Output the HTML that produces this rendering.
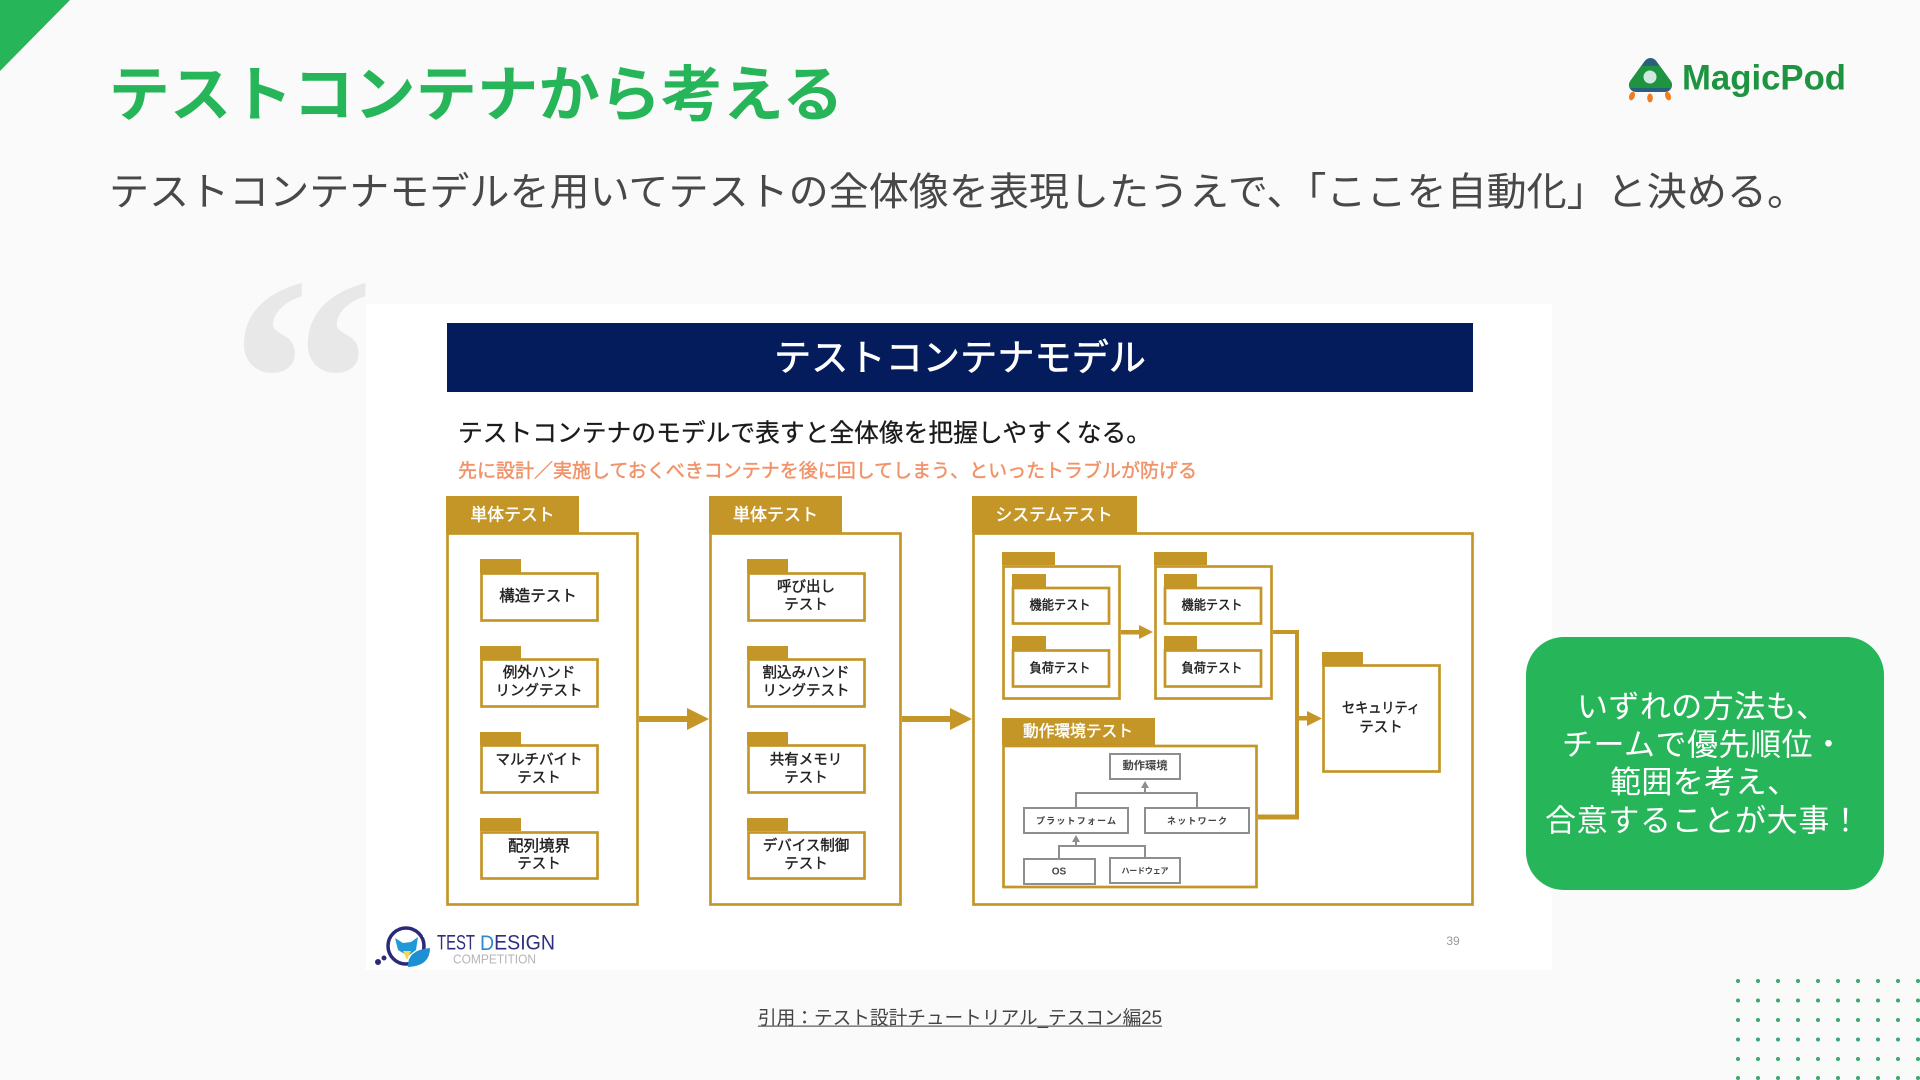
<!DOCTYPE html>
<html lang="ja"><head><meta charset="utf-8"><title>テストコンテナから考える</title>
<style>
html,body{margin:0;padding:0;width:1920px;height:1080px;overflow:hidden;background:#fafafa}
svg{display:block}
text{font-family:"Liberation Sans","Noto Sans CJK JP",sans-serif;text-anchor:middle;dominant-baseline:central}
.g{fill:#fff;stroke:#c49628;stroke-width:2.700}
.t{fill:#c49628}
.h{fill:#fff;font-size:17px;stroke:#fff;stroke-width:.45}
.b{fill:#222;font-size:14.500px;stroke:#222;stroke-width:.4}
.c{fill:#222;font-size:13px;stroke:#222;stroke-width:.4}
.x{fill:#fff;stroke:#8e8e8e;stroke-width:2}
.l{fill:none;stroke:#8e8e8e;stroke-width:2}
.m{fill:#444;font-weight:700}
.a{fill:#c49628}
.f{fill:none;stroke:#c49628}
.d{fill:#3aa86e}
</style></head><body>
<svg width="1920" height="1080" viewBox="0 0 1920 1080" xmlns="http://www.w3.org/2000/svg">
<rect width="1920" height="1080" fill="#fafafa"/>
<polygon points="0,0 70,0 0,71" fill="#27b55a"/>
<text x="476" y="94.500" font-size="60.500" font-weight="700" fill="#27b55a" textLength="735" lengthAdjust="spacingAndGlyphs">テストコンテナから考える</text>
<text x="958" y="192.500" font-size="39.400" fill="#484848" textLength="1698" lengthAdjust="spacingAndGlyphs">テストコンテナモデルを用いてテストの全体像を表現したうえで、「ここを自動化」と決める。</text>

<text x="302.500" y="381" style="font-family:'Liberation Serif',serif;font-weight:700" font-size="298" fill="#e8e8e8" textLength="145" lengthAdjust="spacingAndGlyphs">“</text>

<!-- MagicPod logo -->
<clipPath id="mpc"><rect x="1625" y="66" width="50" height="22"/></clipPath>
<polygon points="1650.500,65 1636,85 1665,85" fill="#2a5f7e" stroke="#2a5f7e" stroke-width="14" stroke-linejoin="round"/>
<polygon points="1650.500,65 1636,85 1665,85" fill="#1f9440" stroke="#1f9440" stroke-width="14" stroke-linejoin="round" clip-path="url(#mpc)"/>
<circle cx="1650" cy="77" r="6.500" fill="#cfe9e1"/>
<ellipse cx="1632" cy="96" rx="2.800" ry="4.500" fill="#f47c20" transform="rotate(20 1632 96)"/>
<ellipse cx="1650" cy="98" rx="2.800" ry="4.500" fill="#f47c20"/>
<ellipse cx="1668" cy="96" rx="2.800" ry="4.500" fill="#f47c20" transform="rotate(-20 1668 96)"/>
<text x="1764" y="78" font-size="35" font-weight="700" fill="#1f9440" textLength="164" lengthAdjust="spacingAndGlyphs">MagicPod</text>

<!-- Slide image -->
<rect x="366" y="304" width="1186" height="666" fill="#fff"/>
<rect x="447" y="323" width="1026" height="69" fill="#051c5c"/>
<text x="960" y="358" font-size="37" fill="#fff" stroke="#fff" stroke-width=".6" textLength="372" lengthAdjust="spacingAndGlyphs">テストコンテナモデル</text>
<text x="804.500" y="433.500" font-size="25" fill="#1a1a1a" stroke="#1a1a1a" stroke-width=".3" textLength="693" lengthAdjust="spacingAndGlyphs">テストコンテナのモデルで表すと全体像を把握しやすくなる。</text>
<text x="827.500" y="471.500" font-size="19" fill="#f0936a" stroke="#f0936a" stroke-width=".45" textLength="739" lengthAdjust="spacingAndGlyphs">先に設計／実施しておくべきコンテナを後に回してしまう、といったトラブルが防げる</text>

<!-- Column 1 -->
<rect class="g" x="447.500" y="533.500" width="190" height="371"/>
<rect class="t" x="446" y="496" width="133" height="37"/>
<text class="h" x="512.500" y="515" textLength="84" lengthAdjust="spacingAndGlyphs">単体テスト</text>
<rect class="t" x="480" y="559" width="41" height="14"/><rect class="g" x="481.500" y="573.500" width="116" height="47"/>
<text class="b" x="538" y="596.500" style="font-size:15.500px">構造テスト</text>
<rect class="t" x="480" y="646" width="41" height="13"/><rect class="g" x="481.500" y="659.500" width="116" height="47"/>
<text class="b" x="539" y="673.500">例外ハンド</text><text class="b" x="539" y="691.500">リングテスト</text>
<rect class="t" x="480" y="732" width="41" height="13"/><rect class="g" x="481.500" y="745.500" width="116" height="47"/>
<text class="b" x="539" y="760.500">マルチバイト</text><text class="b" x="539" y="778.500">テスト</text>
<rect class="t" x="480" y="818" width="41" height="13"/><rect class="g" x="481.500" y="832.500" width="116" height="46"/>
<text class="b" x="539" y="846.500" style="font-size:15.500px">配列境界</text><text class="b" x="539" y="864.500">テスト</text>

<!-- Column 2 -->
<rect class="g" x="710.500" y="533.500" width="190" height="371"/>
<rect class="t" x="709" y="496" width="133" height="37"/>
<text class="h" x="775.500" y="515" textLength="85" lengthAdjust="spacingAndGlyphs">単体テスト</text>
<rect class="t" x="747" y="559" width="41" height="14"/><rect class="g" x="748.500" y="573.500" width="116" height="47"/>
<text class="b" x="806" y="587.500">呼び出し</text><text class="b" x="806" y="605.500">テスト</text>
<rect class="t" x="747" y="646" width="41" height="13"/><rect class="g" x="748.500" y="659.500" width="116" height="47"/>
<text class="b" x="806" y="673.500">割込みハンド</text><text class="b" x="806" y="691.500">リングテスト</text>
<rect class="t" x="747" y="732" width="41" height="13"/><rect class="g" x="748.500" y="745.500" width="116" height="47"/>
<text class="b" x="806" y="760.500">共有メモリ</text><text class="b" x="806" y="778.500">テスト</text>
<rect class="t" x="747" y="818" width="41" height="13"/><rect class="g" x="748.500" y="832.500" width="116" height="46"/>
<text class="b" x="806" y="846.500">デバイス制御</text><text class="b" x="806" y="864.500">テスト</text>

<!-- Arrows between columns -->
<rect class="a" x="639" y="716" width="50" height="6"/><polygon class="a" points="687,708 709,719 687,730"/>
<rect class="a" x="902" y="716" width="50" height="6"/><polygon class="a" points="950,708 972,719 950,730"/>

<!-- System test -->
<rect class="g" x="973.500" y="533.500" width="499" height="371"/>
<rect class="t" x="972" y="496" width="165" height="37"/>
<text class="h" x="1054" y="515" textLength="117" lengthAdjust="spacingAndGlyphs">システムテスト</text>

<!-- A -->
<rect class="t" x="1002" y="552" width="53" height="13"/><rect class="g" x="1003.500" y="566.500" width="116" height="132"/>
<rect class="t" x="1012" y="574" width="34" height="13"/><rect class="g" x="1013" y="588" width="96" height="35.500"/>
<text class="c" x="1060" y="605" textLength="61" lengthAdjust="spacingAndGlyphs">機能テスト</text>
<rect class="t" x="1012" y="636" width="34" height="14"/><rect class="g" x="1013" y="650.500" width="96" height="36"/>
<text class="c" x="1060" y="668" textLength="61" lengthAdjust="spacingAndGlyphs">負荷テスト</text>
<!-- B -->
<rect class="t" x="1154" y="552" width="53" height="13"/><rect class="g" x="1155.500" y="566.500" width="116" height="132"/>
<rect class="t" x="1164" y="574" width="33" height="13"/><rect class="g" x="1165" y="588" width="96" height="35.500"/>
<text class="c" x="1212" y="605" textLength="61" lengthAdjust="spacingAndGlyphs">機能テスト</text>
<rect class="t" x="1164" y="636" width="33" height="14"/><rect class="g" x="1165" y="650.500" width="96" height="36"/>
<text class="c" x="1212" y="668" textLength="61" lengthAdjust="spacingAndGlyphs">負荷テスト</text>
<!-- A to B -->
<rect class="a" x="1121" y="630" width="21" height="4.500"/><polygon class="a" points="1139,625 1153,632 1139,639"/>
<!-- connectors to security -->
<path class="f" stroke-width="4" d="M1273 632H1297V817"/>
<path class="f" stroke-width="5" d="M1258 817H1299"/>
<rect class="a" x="1297" y="716" width="12" height="4.500"/><polygon class="a" points="1307,711 1322,718.500 1307,726"/>
<!-- Security -->
<rect class="t" x="1322" y="652" width="41" height="13"/><rect class="g" x="1323.500" y="665.500" width="116" height="106"/>
<text class="b" x="1381" y="709" textLength="78" lengthAdjust="spacingAndGlyphs">セキュリティ</text><text class="b" x="1381" y="728">テスト</text>

<!-- Operating env -->
<rect class="g" x="1003.500" y="746" width="253" height="141"/>
<rect class="t" x="1002" y="718" width="153" height="27"/>
<text class="h" x="1078" y="732" style="font-size:16px" textLength="110" lengthAdjust="spacingAndGlyphs">動作環境テスト</text>
<rect class="x" x="1110" y="754" width="70" height="25"/>
<text x="1145" y="766" font-size="11" font-weight="700" fill="#444" textLength="45" lengthAdjust="spacingAndGlyphs">動作環境</text>
<rect class="x" x="1024" y="808" width="104" height="25"/>
<text x="1076" y="821" font-size="9" class="m" textLength="80" lengthAdjust="spacing">プラットフォーム</text>
<rect class="x" x="1145" y="808" width="104" height="25"/>
<text x="1197" y="821" font-size="9" class="m" textLength="60" lengthAdjust="spacing">ネットワーク</text>
<rect class="x" x="1024" y="859" width="71" height="25"/>
<text x="1059" y="872" font-size="10" class="m">OS</text>
<rect class="x" x="1110" y="858" width="70" height="25"/>
<text x="1145" y="871" font-size="8" class="m" textLength="47" lengthAdjust="spacing">ハードウェア</text>
<path class="l" d="M1145 786V793M1076 808V793H1197V808"/>
<polygon points="1145,781 1149,788 1141,788" fill="#8e8e8e"/>
<path class="l" d="M1076 840V846M1059 859V846H1145V858"/>
<polygon points="1076,835 1080,842 1072,842" fill="#8e8e8e"/>

<!-- Test Design logo -->
<circle cx="406" cy="946" r="18" fill="none" stroke="#2a2a78" stroke-width="3.500"/>
<rect x="423" y="925" width="10" height="12" fill="#fff"/>
<polygon points="395,938 403,943 411,942 418,937 416,950 408,956 398,950" fill="#1f9ad6"/>
<polygon points="403,951 411,951 407,960" fill="#f1d94a"/>
<path d="M408 967Q407 950 430 948Q430 966 408 967Z" fill="#1f8fd4"/>
<circle cx="378" cy="962" r="3" fill="#2a2a78"/><circle cx="384" cy="958" r="2.500" fill="#2a2a78"/>
<text x="456" y="943" font-size="21" fill="#2f2f80" textLength="38" lengthAdjust="spacingAndGlyphs">TEST</text>
<text x="517.500" y="943" font-size="21" fill="#2f2f80" textLength="75" lengthAdjust="spacingAndGlyphs"><tspan fill="#2d86d0">D</tspan>ESIGN</text>
<text x="494.500" y="959" font-size="13" fill="#b5b5b5" textLength="83" lengthAdjust="spacingAndGlyphs">COMPETITION</text>
<text x="1453" y="941" font-size="12" fill="#999">39</text>

<!-- Callout -->
<rect x="1526" y="637" width="358" height="253" rx="38" ry="38" fill="#27b55a"/>
<text x="1702" y="707" font-size="31" fill="#fff" textLength="250" lengthAdjust="spacing">いずれの方法も、</text>
<text x="1703" y="745" font-size="31" fill="#fff" textLength="282" lengthAdjust="spacing">チームで優先順位・</text>
<text x="1704" y="782.500" font-size="31" fill="#fff" textLength="188" lengthAdjust="spacing">範囲を考え、</text>
<text x="1703" y="821" font-size="31" fill="#fff" textLength="316" lengthAdjust="spacing">合意することが大事！</text>

<!-- Citation -->
<text x="960" y="1018.500" font-size="19" fill="#444" textLength="404" lengthAdjust="spacingAndGlyphs">引用：テスト設計チュートリアル_テスコン編25</text>
<rect x="758" y="1025.500" width="404" height="1.300" fill="#666"/>

<!-- Dots -->
<g class="d">
<circle cx="1738" cy="981" r="2"/><circle cx="1758" cy="981" r="2"/><circle cx="1778" cy="981" r="2"/><circle cx="1798" cy="981" r="2"/><circle cx="1818" cy="981" r="2"/><circle cx="1838" cy="981" r="2"/><circle cx="1858" cy="981" r="2"/><circle cx="1878" cy="981" r="2"/><circle cx="1898" cy="981" r="2"/><circle cx="1918" cy="981" r="2"/>
<circle cx="1738" cy="1000.500" r="2"/><circle cx="1758" cy="1000.500" r="2"/><circle cx="1778" cy="1000.500" r="2"/><circle cx="1798" cy="1000.500" r="2"/><circle cx="1818" cy="1000.500" r="2"/><circle cx="1838" cy="1000.500" r="2"/><circle cx="1858" cy="1000.500" r="2"/><circle cx="1878" cy="1000.500" r="2"/><circle cx="1898" cy="1000.500" r="2"/><circle cx="1918" cy="1000.500" r="2"/>
<circle cx="1738" cy="1020" r="2"/><circle cx="1758" cy="1020" r="2"/><circle cx="1778" cy="1020" r="2"/><circle cx="1798" cy="1020" r="2"/><circle cx="1818" cy="1020" r="2"/><circle cx="1838" cy="1020" r="2"/><circle cx="1858" cy="1020" r="2"/><circle cx="1878" cy="1020" r="2"/><circle cx="1898" cy="1020" r="2"/><circle cx="1918" cy="1020" r="2"/>
<circle cx="1738" cy="1039.500" r="2"/><circle cx="1758" cy="1039.500" r="2"/><circle cx="1778" cy="1039.500" r="2"/><circle cx="1798" cy="1039.500" r="2"/><circle cx="1818" cy="1039.500" r="2"/><circle cx="1838" cy="1039.500" r="2"/><circle cx="1858" cy="1039.500" r="2"/><circle cx="1878" cy="1039.500" r="2"/><circle cx="1898" cy="1039.500" r="2"/><circle cx="1918" cy="1039.500" r="2"/>
<circle cx="1738" cy="1059" r="2"/><circle cx="1758" cy="1059" r="2"/><circle cx="1778" cy="1059" r="2"/><circle cx="1798" cy="1059" r="2"/><circle cx="1818" cy="1059" r="2"/><circle cx="1838" cy="1059" r="2"/><circle cx="1858" cy="1059" r="2"/><circle cx="1878" cy="1059" r="2"/><circle cx="1898" cy="1059" r="2"/><circle cx="1918" cy="1059" r="2"/>
<circle cx="1738" cy="1078" r="2"/><circle cx="1758" cy="1078" r="2"/><circle cx="1778" cy="1078" r="2"/><circle cx="1798" cy="1078" r="2"/><circle cx="1818" cy="1078" r="2"/><circle cx="1838" cy="1078" r="2"/><circle cx="1858" cy="1078" r="2"/><circle cx="1878" cy="1078" r="2"/><circle cx="1898" cy="1078" r="2"/><circle cx="1918" cy="1078" r="2"/>
</g>
</svg>
</body></html>
